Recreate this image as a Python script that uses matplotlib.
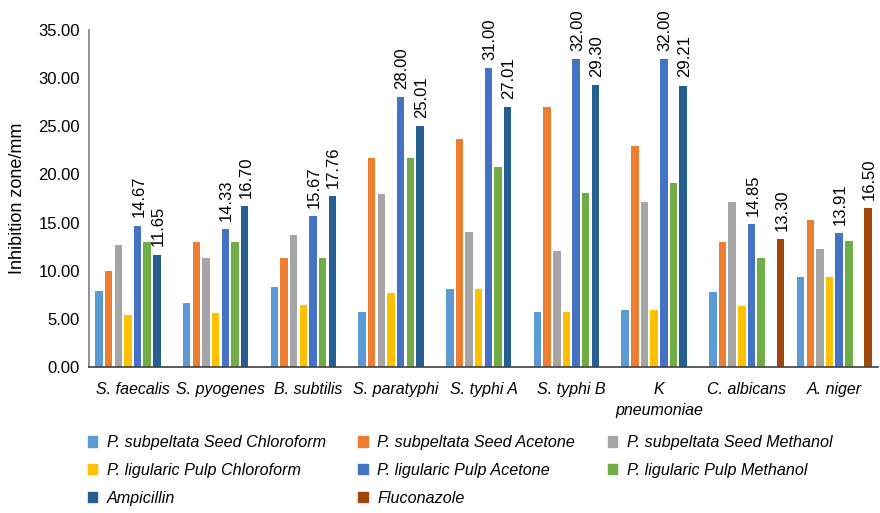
import numpy as np
import matplotlib
matplotlib.use("Agg")
import matplotlib.pyplot as plt
from matplotlib.patches import Patch

plt.rcParams['font.family'] = ['Liberation Sans', 'DejaVu Sans']

organisms = ['S. faecalis', 'S. pyogenes', 'B. subtilis', 'S. paratyphi', 'S. typhi A',
             'S. typhi B', 'K\npneumoniae', 'C. albicans', 'A. niger']

nan = np.nan
seed_chloroform = [7.9, 6.6, 8.3, 5.7, 8.1, 5.7, 5.9, 7.8, 9.3]
seed_acetone    = [10.0, 13.0, 11.3, 21.7, 23.7, 27.0, 23.0, 13.0, 15.3]
seed_methanol   = [12.7, 11.3, 13.7, 18.0, 14.0, 12.0, 17.1, 17.1, 12.3]
pulp_chloroform = [5.4, 5.6, 6.4, 7.7, 8.1, 5.7, 5.9, 6.3, 9.3]
pulp_acetone    = [14.67, 14.33, 15.67, 28.00, 31.00, 32.00, 32.00, 14.85, 13.91]
pulp_methanol   = [13.0, 13.0, 11.3, 21.7, 20.8, 18.1, 19.1, 11.3, 13.1]
ampicillin      = [11.65, 16.70, 17.76, 25.01, 27.01, 29.30, 29.21, nan, nan]
fluconazole     = [nan, nan, nan, nan, nan, nan, nan, 13.30, 16.50]

series = [
    ('P. subpeltata Seed Chloroform', seed_chloroform, '#5B9BD5', False),
    ('P. subpeltata Seed Acetone', seed_acetone, '#ED7D31', False),
    ('P. subpeltata Seed Methanol', seed_methanol, '#A5A5A5', False),
    ('P. ligularic Pulp Chloroform', pulp_chloroform, '#FFC000', False),
    ('P. ligularic Pulp Acetone', pulp_acetone, '#4472C4', True),
    ('P. ligularic Pulp Methanol', pulp_methanol, '#70AD47', False),
    ('Ampicillin', ampicillin, '#255E91', True),
    ('Fluconazole', fluconazole, '#9E480E', True),
]

fig = plt.figure(figsize=(8.8, 5.13), dpi=100)
ax = fig.add_axes([0.101, 0.2846, 0.897, 0.657])

x = np.arange(len(organisms))
slot = 0.11
width = 0.085
handles = []
for i, (name, vals, color, labelled) in enumerate(series):
    vals = np.array(vals, dtype=float)
    pos = x + (i - 3.5) * slot
    ax.bar(pos, vals, width=width, color=color)
    handles.append(Patch(color=color, label=name))
    if labelled:
        for px, v in zip(pos, vals):
            if np.isnan(v):
                continue
            ax.annotate('%.2f' % v, (px, v), xytext=(1, 6), textcoords='offset points',
                        rotation=90, ha='center', va='bottom', fontsize=12)

ax.set_xlim(-0.5, 8.5)
ax.set_ylim(0, 35)
ax.set_yticks(np.arange(0, 35.1, 5))
ax.set_yticklabels(['%.2f' % t for t in np.arange(0, 35.1, 5)], fontsize=12)
ax.set_xticks(x)
ax.set_xticklabels(organisms, fontsize=11.5, style='italic', linespacing=1.5)
ax.tick_params(length=0)
ax.tick_params(axis='y', pad=6.5)
ax.tick_params(axis='x', pad=10.5)
ax.set_ylabel('Inhibition zone/mm', fontsize=13, labelpad=9)
for s in ['top', 'right']:
    ax.spines[s].set_visible(False)
ax.spines['left'].set_color('#7f7f7f')
ax.spines['left'].set_linewidth(1.2)
ax.spines['bottom'].set_color('#404040')
ax.spines['bottom'].set_linewidth(1.2)

# row-major legend order via column-major fill
order = [0, 3, 6, 1, 4, 7, 2, 5]
leg = fig.legend([handles[k] for k in order], [series[k][0] for k in order],
                 ncol=3, loc='upper left', bbox_to_anchor=(0.083, 0.18),
                 frameon=False, prop={'style': 'italic', 'size': 11.6},
                 handlelength=0.6, handleheight=0.6, handletextpad=0.6,
                 columnspacing=2.0, labelspacing=0.8)

fig.savefig('out.png', dpi=100)
